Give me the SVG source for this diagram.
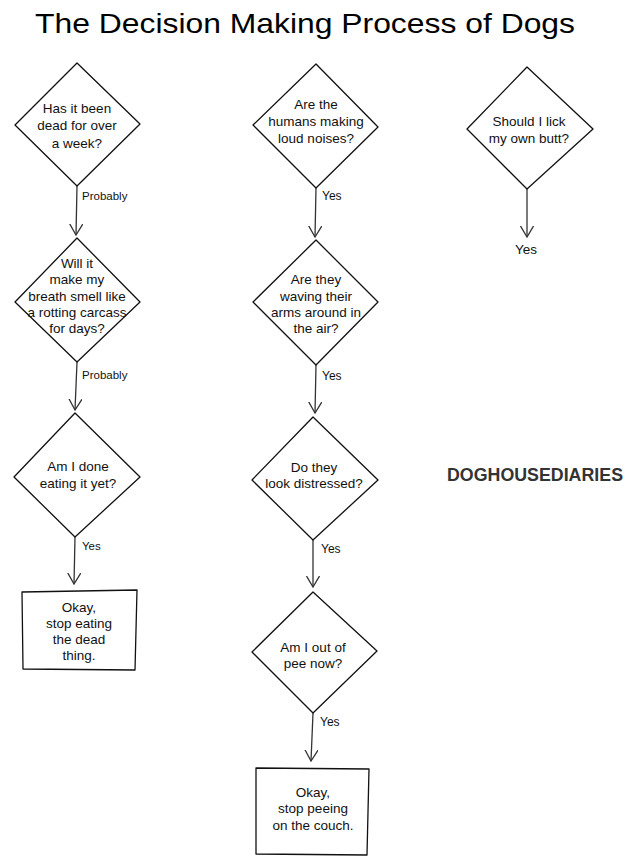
<svg xmlns="http://www.w3.org/2000/svg" width="633" height="863" viewBox="0 0 633 863">
<defs>
<style>
.bg{fill:#ffffff}
.shape{fill:#ffffff;stroke:#111;stroke-width:1.3;stroke-linejoin:round}
.conn{fill:none;stroke:#333;stroke-width:1.3}
.t{font-family:"Liberation Sans",Arial,sans-serif;font-size:13.5px;fill:#111;text-anchor:middle}
.lbl{font-family:"Liberation Sans",Arial,sans-serif;font-size:11.5px;fill:#111}
.title{font-family:"Liberation Sans",Arial,sans-serif;font-size:28px;fill:#000;text-anchor:middle}
.brand{font-family:"Liberation Sans",Arial,sans-serif;font-size:17.5px;font-weight:bold;fill:#333;text-anchor:middle}
</style>
<marker id="arr" viewBox="0 0 12 14" refX="11" refY="7" markerWidth="12" markerHeight="14" markerUnits="userSpaceOnUse" orient="auto">
<path d="M0,0.5 L11,7 L0,13.5" fill="none" stroke="#333" stroke-width="1.3"/>
</marker>
</defs>
<rect class="bg" x="0" y="0" width="633" height="863"/>
<text class="title" x="305" y="33" textLength="540" lengthAdjust="spacingAndGlyphs">The Decision Making Process of Dogs</text>

<g id="connectors">
<line class="conn" x1="77" y1="186" x2="76" y2="235" marker-end="url(#arr)"/>
<text class="lbl" x="82" y="200">Probably</text>
<line class="conn" x1="77" y1="362" x2="75" y2="410" marker-end="url(#arr)"/>
<text class="lbl" x="82" y="379">Probably</text>
<line class="conn" x1="75" y1="537" x2="74" y2="584" marker-end="url(#arr)"/>
<text class="lbl" x="82" y="550">Yes</text>
<line class="conn" x1="316" y1="188" x2="315" y2="237" marker-end="url(#arr)"/>
<text class="lbl" x="322" y="200" style="font-size:12px">Yes</text>
<line class="conn" x1="316" y1="365" x2="315" y2="413" marker-end="url(#arr)"/>
<text class="lbl" x="322" y="380" style="font-size:12px">Yes</text>
<line class="conn" x1="313" y1="540" x2="313" y2="587" marker-end="url(#arr)"/>
<text class="lbl" x="321" y="553" style="font-size:12px">Yes</text>
<line class="conn" x1="313" y1="713" x2="311" y2="761" marker-end="url(#arr)"/>
<text class="lbl" x="320" y="726" style="font-size:12px">Yes</text>
<line class="conn" x1="527" y1="189" x2="527" y2="237" marker-end="url(#arr)"/>
<text class="lbl" x="526" y="254" style="font-size:13.5px;text-anchor:middle">Yes</text>
</g>

<g id="n1">
<polygon class="shape" points="77,63 140,124 77,186 15,125"/>
<text class="t" x="77" y="113">Has it been</text>
<text class="t" x="77" y="130">dead for over</text>
<text class="t" x="77" y="148">a week?</text>
</g>
<g id="n2">
<polygon class="shape" points="77,238 140,302 77,362 15,302"/>
<text class="t" x="77" y="268">Will it</text>
<text class="t" x="77" y="284">make my</text>
<text class="t" x="77" y="301">breath smell like</text>
<text class="t" x="77" y="317">a rotting carcass</text>
<text class="t" x="77" y="333">for days?</text>
</g>
<g id="n3">
<polygon class="shape" points="75,413 140,477 75,537 14,477"/>
<text class="t" x="78" y="471">Am I done</text>
<text class="t" x="78" y="488">eating it yet?</text>
</g>
<g id="n4">
<polygon class="shape" points="22,592 137,590 135,670 23,669"/>
<text class="t" x="79" y="612">Okay,</text>
<text class="t" x="79" y="628">stop eating</text>
<text class="t" x="79" y="644">the dead</text>
<text class="t" x="79" y="660">thing.</text>
</g>
<g id="n5">
<polygon class="shape" points="316,64 378,127 316,188 253,125"/>
<text class="t" x="316" y="109">Are the</text>
<text class="t" x="316" y="126">humans making</text>
<text class="t" x="316" y="143">loud noises?</text>
</g>
<g id="n6">
<polygon class="shape" points="316,240 378,302 316,365 253,302"/>
<text class="t" x="316" y="284">Are they</text>
<text class="t" x="316" y="301">waving their</text>
<text class="t" x="316" y="317">arms around in</text>
<text class="t" x="316" y="333">the air?</text>
</g>
<g id="n7">
<polygon class="shape" points="313,417 378,480 313,540 252,480"/>
<text class="t" x="314" y="472">Do they</text>
<text class="t" x="314" y="488">look distressed?</text>
</g>
<g id="n8">
<polygon class="shape" points="313,592 377,651 313,713 252,652"/>
<text class="t" x="313" y="652">Am I out of</text>
<text class="t" x="313" y="668">pee now?</text>
</g>
<g id="n9">
<polygon class="shape" points="256,768 369,769 367,855 256,854"/>
<text class="t" x="313" y="797">Okay,</text>
<text class="t" x="313" y="813">stop peeing</text>
<text class="t" x="313" y="830">on the couch.</text>
</g>
<g id="n10">
<polygon class="shape" points="527,67 593,129 527,189 467,129"/>
<text class="t" x="529" y="126">Should I lick</text>
<text class="t" x="529" y="143">my own butt?</text>
</g>
<g id="brand">
<text class="brand" x="535" y="481" textLength="176" lengthAdjust="spacingAndGlyphs">DOGHOUSEDIARIES</text>
</g>
</svg>
